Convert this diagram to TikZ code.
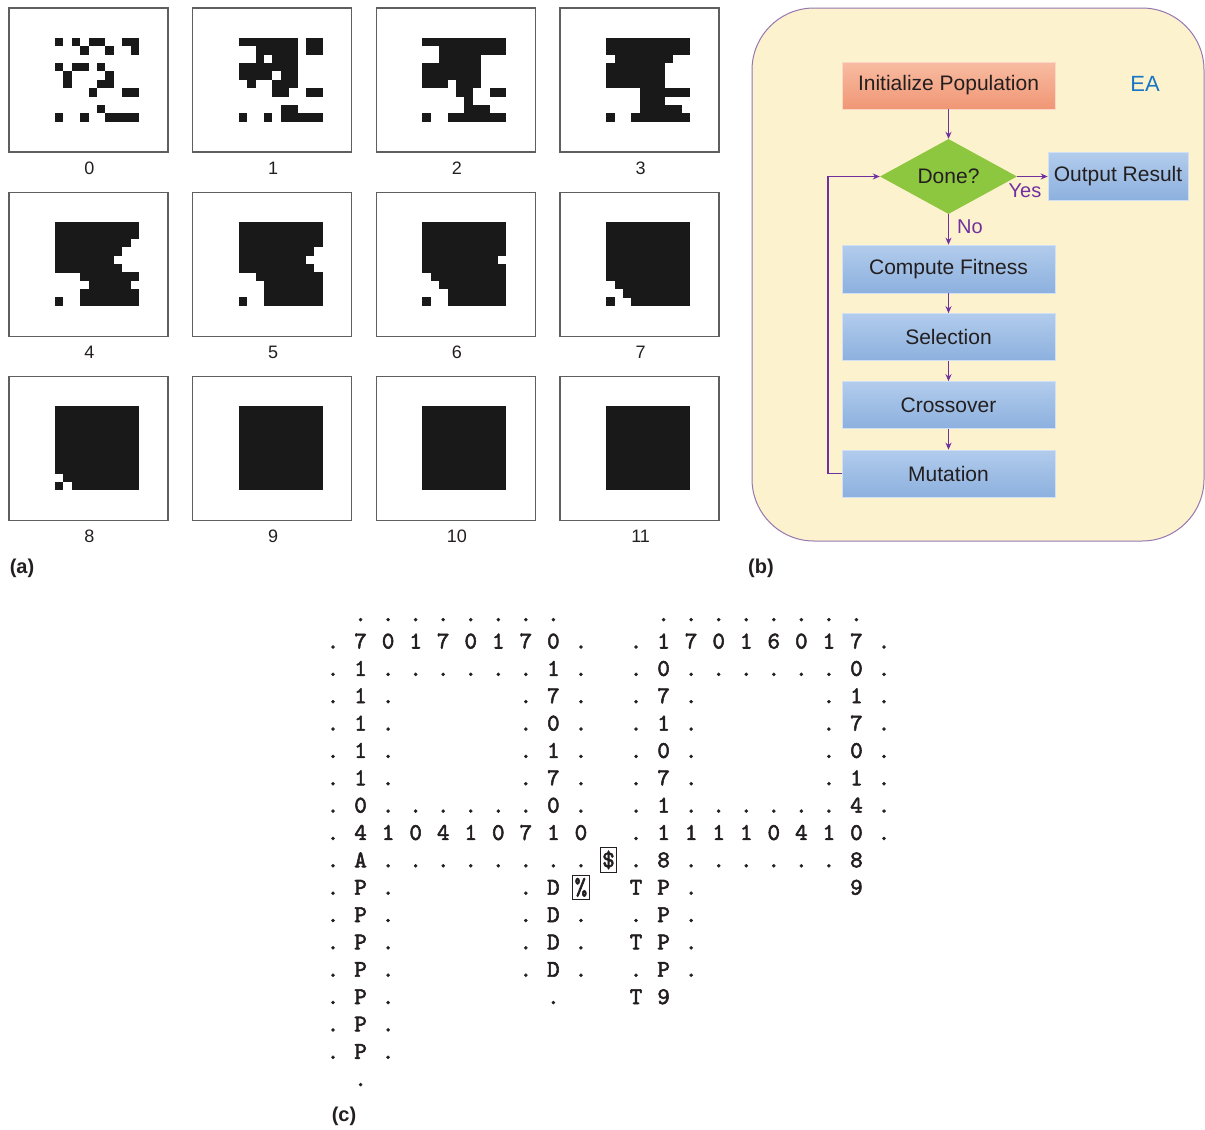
\documentclass[tikz,border=0pt]{standalone}
\usepackage{fontspec}
\setmainfont{Liberation Sans}
\newfontfamily\gridfont{lmmono10-regular.otf}[FakeBold=2.2]
\usetikzlibrary{shapes.geometric,arrows.meta}
\definecolor{eabg}{RGB}{253,242,206}
\definecolor{eaborder}{RGB}{150,120,175}
\definecolor{arrowc}{RGB}{112,48,160}
\definecolor{salmontop}{RGB}{248,188,162}
\definecolor{salmonbot}{RGB}{240,150,116}
\definecolor{bluetop}{RGB}{178,204,236}
\definecolor{bluebot}{RGB}{140,176,222}
\definecolor{greenc}{RGB}{141,198,63}
\definecolor{eablue}{RGB}{24,118,196}
\definecolor{framec}{RGB}{95,95,95}
\definecolor{cellc}{RGB}{25,25,25}
\definecolor{txtc}{RGB}{35,31,32}
\newcommand\drawpat[3]{%
  \foreach \rA/\rB/\cA/\cB in {#3}{%
    \fill[cellc] ({55+183.7*#1+8.4*\cA},{37.5+184.3*#2+8.4*\rA}) rectangle
      ({55+183.7*#1+8.4*(\cB+1)},{37.5+184.3*#2+8.4*(\rB+1)+0.3});}}
\newcommand\gridrow[2]{%
  \foreach \gC/\gT in {#2}{%
    \node[gch] (g#1-\gC) at ({333+27.55*\gC},{648.5+27.35*(#1-1)}) {\gT};}}
\begin{document}
\begin{tikzpicture}[x=1pt,y=-1pt,
  panel/.style={draw=framec, line width=1.4pt, fill=white, minimum width=159pt, minimum height=144pt, inner sep=0pt},
  numlab/.style={font=\fontsize{18}{20}\selectfont, text=txtc, inner sep=0pt},
  plab/.style={font=\bfseries\fontsize{20}{24}\selectfont, text=txtc, inner sep=0pt},
  bluebox/.style={rectangle, top color=bluetop, bottom color=bluebot, draw=bluetop!60!white, line width=0.6pt,
     minimum width=213pt, minimum height=47pt, inner sep=0pt, text=txtc, font=\fontsize{21}{25}\selectfont},
  orangebox/.style={bluebox, top color=salmontop, bottom color=salmonbot, draw=salmontop!60!white},
  decision/.style={diamond, aspect=1.83, minimum width=137pt, minimum height=75pt, inner sep=0pt,
     fill=greenc, text=txtc, font=\fontsize{21}{25}\selectfont},
  lab/.style={text=arrowc, font=\fontsize{20}{24}\selectfont, inner sep=0pt},
  flow/.style={draw=arrowc, line width=1.6pt, -{Stealth[length=7pt,width=6pt]}},
  gch/.style={anchor=base, inner sep=0pt, text=txtc, font=\gridfont\fontsize{24}{25}\selectfont},
  gbox/.style={gch, draw=txtc, line width=1pt, inner xsep=2pt, inner ysep=3pt}
]
\useasboundingbox (0,0) rectangle (1205,1130);
\fill[white] (0,0) rectangle (1205,1130);

% ---------- (a) ----------
\foreach \k in {0,...,11}{
  \pgfmathtruncatemacro\pj{mod(\k,4)}
  \pgfmathtruncatemacro\pi{div(\k,4)}
  \node[panel] (p\k) at ({9+183.7*\pj+79.5},{8+184.3*\pi+72}) {};
  \node[numlab] (n\k) at ({10+183.7*\pj+79.5},{8+184.3*\pi+160}) {\k};
}
\drawpat{0}{0}{0/0/0/0, 0/0/2/2, 0/0/4/5, 0/0/8/9, 1/1/3/3, 1/1/6/6, 1/1/9/9, 3/3/0/0, 3/3/2/3, 3/3/5/5, 4/5/1/1, 4/4/6/6, 5/5/5/6, 6/6/4/4, 6/6/8/9, 8/8/5/5, 9/9/0/0, 9/9/3/3, 9/9/6/9}
\drawpat{1}{0}{0/0/0/6, 0/1/8/9, 1/1/2/6, 2/2/2/2, 2/2/4/6, 3/3/0/6, 4/4/0/3, 4/4/5/6, 5/5/1/1, 5/5/4/6, 6/6/4/5, 6/6/8/9, 8/8/5/6, 9/9/0/0, 9/9/3/3, 9/9/5/9}
\drawpat{2}{0}{0/0/0/9, 1/1/2/9, 2/2/2/6, 3/4/0/6, 5/5/0/2, 5/5/4/6, 6/6/4/5, 6/6/8/9, 7/7/5/5, 8/8/5/7, 9/9/0/0, 9/9/3/9}
\drawpat{3}{0}{0/1/0/9, 2/2/1/7, 3/5/0/6, 6/6/4/9, 7/7/4/6, 8/8/4/8, 9/9/0/0, 9/9/3/9}
\drawpat{0}{1}{0/1/0/9, 2/2/0/8, 3/3/0/7, 4/4/0/6, 5/5/0/7, 6/6/3/9, 7/7/4/8, 8/9/3/9, 9/9/0/0}
\drawpat{1}{1}{0/2/0/9, 3/3/0/8, 4/4/0/7, 5/5/0/8, 6/6/2/9, 7/9/3/9, 9/9/0/0}
\drawpat{2}{1}{0/3/0/9, 4/4/0/8, 5/5/0/9, 6/6/1/9, 7/7/2/9, 8/9/3/9, 9/9/0/0}
\drawpat{3}{1}{0/6/0/9, 7/7/1/9, 8/8/2/9, 9/9/3/9, 9/9/0/0}
\drawpat{0}{2}{0/7/0/9, 8/8/1/9, 9/9/2/9, 9/9/0/0}
\drawpat{1}{2}{0/9/0/9}
\drawpat{2}{2}{0/9/0/9}
\drawpat{3}{2}{0/9/0/9}
\node[plab] (la) at (22,568) {(a)};

% ---------- (b) ----------
\draw[draw=eaborder, line width=1pt, fill=eabg, rounded corners=62pt] (752,8) rectangle (1204,541);
\node[orangebox] (init) at (948.5,85.5) {Initialize Population};
\node[text=eablue, font=\fontsize{22}{26}\selectfont, inner sep=0pt] (ea) at (1145,84) {EA};
\node[decision] (done) at (948.5,176.5) {Done?};
\node[bluebox, minimum width=140pt, minimum height=48pt] (out) at (1118,176.5) {Output Result};
\node[bluebox, minimum height=48pt] (fit) at (948.5,269) {Compute Fitness};
\node[bluebox] (sel) at (948.5,337) {Selection};
\node[bluebox] (cross) at (948.5,405) {Crossover};
\node[bluebox] (mut) at (948.5,473.5) {Mutation};
\draw[flow] (init) -- (done);
\draw[flow] (done) -- (out);
\draw[flow] (done) -- (fit);
\draw[flow] (fit) -- (sel);
\draw[flow] (sel) -- (cross);
\draw[flow] (cross) -- (mut);
\draw[flow] (mut.west) -- ++(-14,0) |- (done.west);
\node[lab] (yes) at (1025,191) {Yes};
\node[lab] (no) at (970,227) {No};
\node[plab] (lb) at (761,568) {(b)};

% ---------- (c) ----------
\gridrow{0}{1/.,2/.,3/.,4/.,5/.,6/.,7/.,8/.,12/.,13/.,14/.,15/.,16/.,17/.,18/.,19/.}
\gridrow{1}{0/.,1/7,2/0,3/1,4/7,5/0,6/1,7/7,8/0,9/.,11/.,12/1,13/7,14/0,15/1,16/6,17/0,18/1,19/7,20/.}
\gridrow{2}{0/.,1/1,2/.,3/.,4/.,5/.,6/.,7/.,8/1,9/.,11/.,12/0,13/.,14/.,15/.,16/.,17/.,18/.,19/0,20/.}
\gridrow{3}{0/.,1/1,2/.,7/.,8/7,9/.,11/.,12/7,13/.,18/.,19/1,20/.}
\gridrow{4}{0/.,1/1,2/.,7/.,8/0,9/.,11/.,12/1,13/.,18/.,19/7,20/.}
\gridrow{5}{0/.,1/1,2/.,7/.,8/1,9/.,11/.,12/0,13/.,18/.,19/0,20/.}
\gridrow{6}{0/.,1/1,2/.,7/.,8/7,9/.,11/.,12/7,13/.,18/.,19/1,20/.}
\gridrow{7}{0/.,1/0,2/.,3/.,4/.,5/.,6/.,7/.,8/0,9/.,11/.,12/1,13/.,14/.,15/.,16/.,17/.,18/.,19/4,20/.}
\gridrow{8}{0/.,1/4,2/1,3/0,4/4,5/1,6/0,7/7,8/1,9/0,11/.,12/1,13/1,14/1,15/1,16/0,17/4,18/1,19/0,20/.}
\gridrow{9}{0/.,1/A,2/.,3/.,4/.,5/.,6/.,7/.,8/.,9/.,11/.,12/8,13/.,14/.,15/.,16/.,17/.,18/.,19/8}
\gridrow{10}{0/.,1/P,2/.,7/.,8/D,11/T,12/P,13/.,19/9}
\gridrow{11}{0/.,1/P,2/.,7/.,8/D,9/.,11/.,12/P,13/.}
\gridrow{12}{0/.,1/P,2/.,7/.,8/D,9/.,11/T,12/P,13/.}
\gridrow{13}{0/.,1/P,2/.,7/.,8/D,9/.,11/.,12/P,13/.}
\gridrow{14}{0/.,1/P,2/.,8/.,11/T,12/9}
\gridrow{15}{0/.,1/P,2/.}
\gridrow{16}{0/.,1/P,2/.}
\gridrow{17}{1/.}
\node[gbox] (dollar) at ({333+27.55*10},{648.5+27.35*8}) {\$};
\node[gbox] (percent) at ({333+27.55*9},{648.5+27.35*9}) {\%};
\node[plab] (lc) at (344,1116) {(c)};
\end{tikzpicture}
\end{document}
